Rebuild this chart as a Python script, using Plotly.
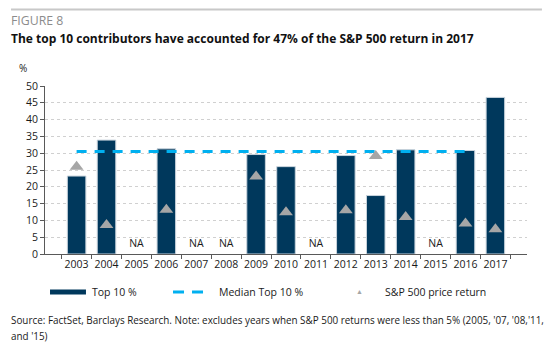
import plotly.graph_objects as go

years = ["2003", "2004", "2005", "2006", "2007", "2008", "2009", "2010",
         "2011", "2012", "2013", "2014", "2015", "2016", "2017"]
top10 = [23.2, 33.9, None, 31.3, None, None, 29.6, 26.0,
         None, 29.3, 17.4, 31.0, None, 30.8, 46.6]
sp500 = [26.0, 8.6, None, 13.2, None, None, 23.1, 12.4,
         None, 13.0, 29.2, 11.0, None, 9.1, 7.4]
median_years = years[:14]
median_vals = [30.5] * 14
na_years = ["2005", "2007", "2008", "2011", "2015"]
na_level = [3.0] * 5

NAVY = "#00385c"
CYAN = "#00b0f0"
GREY = "#a6a6a6"
FONT = "Open Sans"
TXT = "#1a1a1a"

fig = go.Figure()
fig.add_trace(go.Bar(x=years, y=top10,
                     marker=dict(color=NAVY, line=dict(color="#c8d3dc", width=1)),
                     name="Top 10 %", showlegend=False))
fig.add_trace(go.Scatter(x=median_years, y=median_vals, mode="lines",
                         line=dict(color=CYAN, width=3, dash="10px,8px"),
                         name="Median Top 10 %", showlegend=False))
fig.add_trace(go.Scatter(x=years, y=sp500, mode="markers",
                         marker=dict(symbol="triangle-up", size=12, color=GREY),
                         name="S&P 500 price return", showlegend=False))
fig.add_trace(go.Scatter(x=na_years, y=na_level, mode="text", text=["NA"] * 5,
                         textfont=dict(family=FONT, size=10.5, color=TXT),
                         showlegend=False, hoverinfo="skip"))

LEG_Y = -0.226

fig.update_layout(
    width=554, height=358,
    margin=dict(l=37, r=35, t=78, b=112, autoexpand=False),
    paper_bgcolor="white", plot_bgcolor="white",
    font=dict(family=FONT, size=10.5, color=TXT),
    bargap=0.38,
    xaxis=dict(type="category", showline=True, linecolor="#595959", linewidth=1,
               ticks="outside", tickson="boundaries", ticklen=4, tickcolor="#595959",
               tickfont=dict(size=10.5), showgrid=False, tickangle=0, automargin=False),
    yaxis=dict(range=[0, 50], dtick=5, showline=True, linecolor="#595959", linewidth=1,
               ticks="outside", ticklen=4, tickcolor="#595959",
               gridcolor="#d0d0d0", griddash="dot", gridwidth=1,
               tickfont=dict(size=10.5), zeroline=False, automargin=False),
    shapes=[
        dict(type="line", xref="paper", yref="paper", x0=-0.0705, x1=1.031, y0=1.456, y1=1.456,
             line=dict(color="#c8c8c8", width=2)),
        dict(type="line", xref="paper", yref="paper", x0=0.0104, x1=0.085, y0=LEG_Y, y1=LEG_Y,
             line=dict(color=NAVY, width=5)),
        dict(type="line", xref="paper", yref="paper", x0=0.2656, x1=0.328, y0=LEG_Y, y1=LEG_Y,
             line=dict(color=CYAN, width=3, dash="11px,8px")),
    ],
    annotations=[
        dict(text="FIGURE 8", xref="paper", yref="paper", x=-0.0747, y=1.39, xanchor="left",
             yanchor="middle", showarrow=False, font=dict(size=12.3, color="#8c8c8c")),
        dict(text="<b>The top 10 contributors have accounted for 47% of the S&P 500 return in 2017</b>",
             xref="paper", yref="paper", x=-0.0747, y=1.283, xanchor="left", yanchor="middle",
             showarrow=False, font=dict(size=12, color="#111")),
        dict(text="%", xref="paper", yref="paper", x=-0.058, y=1.107, xanchor="left", yanchor="middle",
             showarrow=False, font=dict(size=10)),
        dict(text="Top 10 %", xref="paper", yref="paper", x=0.0934, y=LEG_Y, xanchor="left",
             yanchor="middle", showarrow=False, font=dict(size=10.5)),
        dict(text="Median Top 10 %", xref="paper", yref="paper", x=0.357, y=LEG_Y, xanchor="left",
             yanchor="middle", showarrow=False, font=dict(size=10.5)),
        dict(text="▲", xref="paper", yref="paper", x=0.6535, y=LEG_Y, xanchor="center",
             yanchor="middle", showarrow=False, font=dict(size=7, color=GREY)),
        dict(text="S&P 500 price return", xref="paper", yref="paper", x=0.701, y=LEG_Y, xanchor="left",
             yanchor="middle", showarrow=False, font=dict(size=10.5)),
        dict(text="Source: FactSet, Barclays Research. Note: excludes years when S&P 500 returns were less than 5% (2005, '07, '08,'11,",
             xref="paper", yref="paper", x=-0.0747, y=-0.39, xanchor="left", yanchor="middle",
             align="left", showarrow=False, font=dict(size=9.9)),
        dict(text="and '15)",
             xref="paper", yref="paper", x=-0.0747, y=-0.487, xanchor="left", yanchor="middle",
             align="left", showarrow=False, font=dict(size=9.9)),
    ],
)

fig.write_html("out.html")
